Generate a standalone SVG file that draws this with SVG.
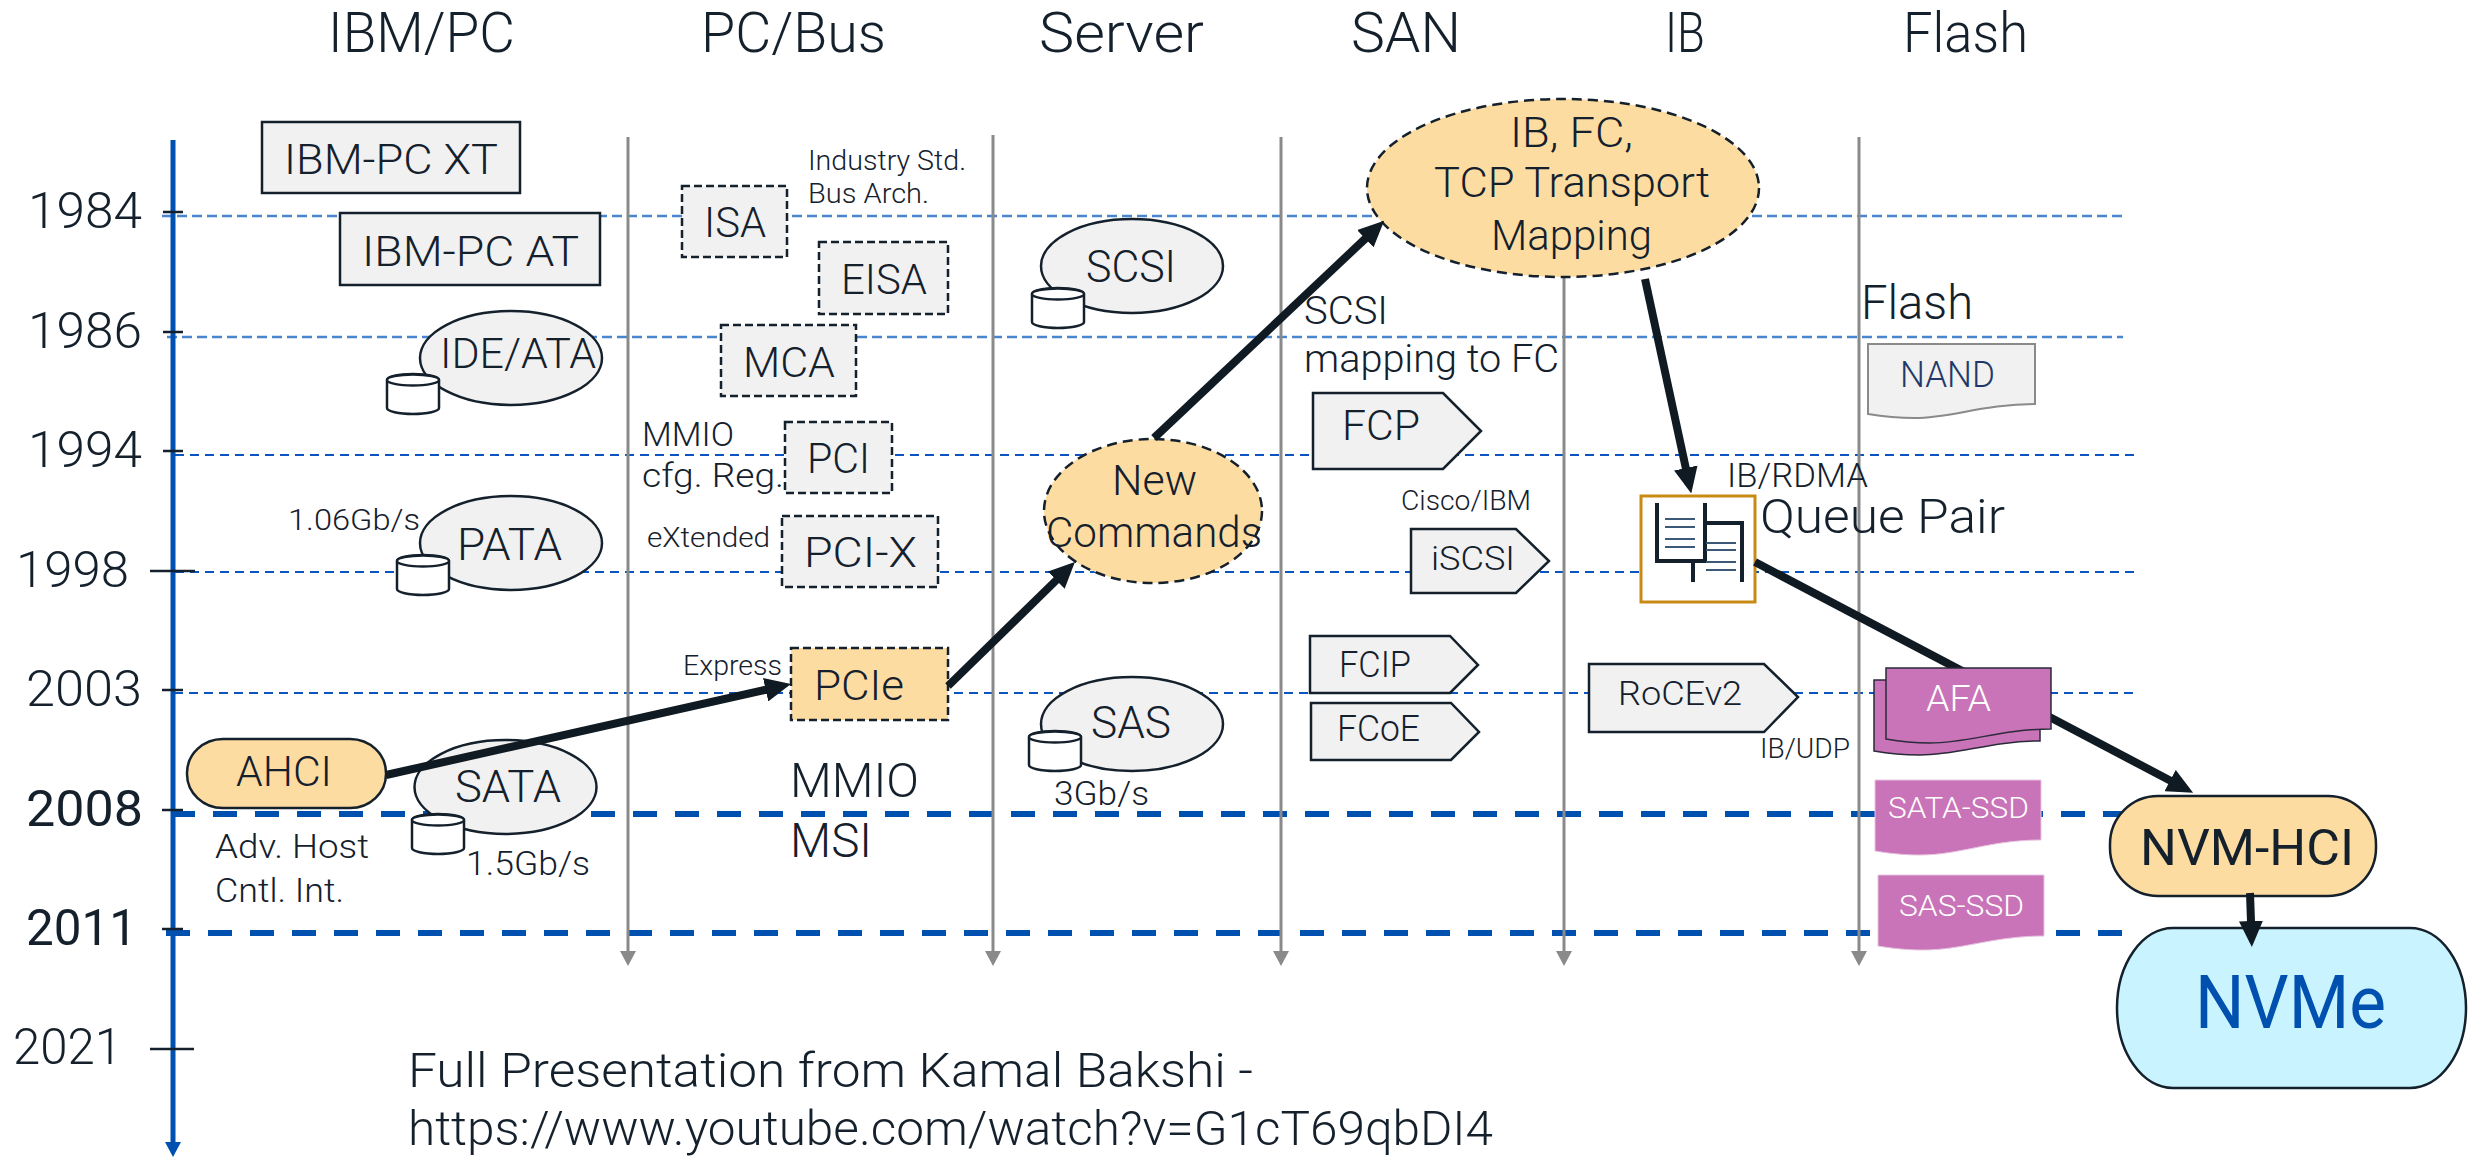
<svg xmlns="http://www.w3.org/2000/svg" width="2481" height="1157" viewBox="0 0 2481 1157">
<style>
text{font-family:"Roboto","Liberation Sans",sans-serif;font-weight:300;fill:#14202c}
.hd{font-size:56px}.yr{font-size:50px}.yb{font-size:50px;font-weight:400}
.s28{font-size:28px}.s30{font-size:30px}.s34{font-size:34px}.s36{font-size:36px}.s38{font-size:39px}.s42{font-size:43px}.s44{font-size:44px}.s48{font-size:48px}
.w{fill:#fff}
.box{fill:#f1f1f1;stroke:#14202c;stroke-width:2.5}
.dsh{fill:#f1f1f1;stroke:#14202c;stroke-width:2.5;stroke-dasharray:8 4}
.org{fill:#fddca2;stroke:#14202c;stroke-width:2.5;stroke-dasharray:10 6}
.pill{fill:#fddca2;stroke:#14202c;stroke-width:2.5}
.ell{fill:#f1f1f1;stroke:#14202c;stroke-width:2.5}
.thinA{stroke:#4a86d0;stroke-width:2.5;stroke-dasharray:10 5;fill:none}
.thinB{stroke:#0b55c0;stroke-width:1.8;stroke-dasharray:9 6;fill:none}
.thick{stroke:#0050b0;stroke-width:6;stroke-dasharray:24 18;fill:none}
.gray{stroke:#8a8a8a;stroke-width:3;fill:none;marker-end:url(#ga)}
.tick{stroke:#14202c;stroke-width:2.5;fill:none}
.con{stroke:#101a22;stroke-width:8;fill:none;marker-end:url(#ba)}
.doc{fill:#c973b8;stroke:#2a2a3a;stroke-width:1.5}
.ssd{fill:#c973b8;stroke:#e6c4df;stroke-width:1}
.ic{stroke:#14202c;stroke-width:4;fill:none}
.il{stroke:#3c5a78;stroke-width:2;fill:none}
</style>
<defs>
<marker id="ga" markerUnits="userSpaceOnUse" markerWidth="16" markerHeight="16" viewBox="0 0 16 16" refX="0" refY="8" orient="auto"><path d="M0,0L15,8L0,16z" fill="#8a8a8a"/></marker>
<marker id="ba" markerUnits="userSpaceOnUse" markerWidth="26" markerHeight="24" viewBox="0 0 26 24" refX="1" refY="12" orient="auto"><path d="M0,0L26,12L0,24z" fill="#101a22"/></marker>
<marker id="bl" markerUnits="userSpaceOnUse" markerWidth="16" markerHeight="16" viewBox="0 0 16 16" refX="0" refY="8" orient="auto"><path d="M0,0L15,8L0,16z" fill="#0050b0"/></marker>
<g id="cyl"><path d="M0,6A26,6 0 0 1 52,6V34A26,6 0 0 1 0,34Z" fill="#fff" stroke="#14202c" stroke-width="2.5"/><ellipse cx="26" cy="6" rx="26" ry="5.5" fill="#fff" stroke="#14202c" stroke-width="2.5"/></g>
</defs>
<g id="guides">
<path class="thinA" d="M162,216H2123"/>
<path class="thinA" d="M167,337H2123"/>
<path class="thinB" d="M175,455H2137"/>
<path class="thinB" d="M175,572H2137"/>
<path class="thinB" d="M174,693H2137"/>
<path class="thick" d="M171,814H2125"/>
<path class="thick" d="M166,933H2122"/>
<path class="gray" d="M628,137V951"/>
<path class="gray" d="M993,135V951"/>
<path class="gray" d="M1281,137V951"/>
<path class="gray" d="M1564,270V951"/>
<path class="gray" d="M1859,137V951"/>
<path d="M173,140V1142" stroke="#0050b0" stroke-width="5" fill="none" marker-end="url(#bl)"/>
<path class="tick" d="M163,212H183M163,332H183M163,451H183M150,571H195M162,690H183M162,810H183M162,929H183M150,1049H194"/>
</g>
<g id="years">
<text class="yr" x="28" y="228" textLength="114" lengthAdjust="spacingAndGlyphs">1984</text>
<text class="yr" x="28" y="348" textLength="114" lengthAdjust="spacingAndGlyphs">1986</text>
<text class="yr" x="28" y="467" textLength="114" lengthAdjust="spacingAndGlyphs">1994</text>
<text class="yr" x="16" y="587" textLength="113" lengthAdjust="spacingAndGlyphs">1998</text>
<text class="yr" x="26" y="706" textLength="116" lengthAdjust="spacingAndGlyphs">2003</text>
<text class="yb" x="26" y="826" textLength="117" lengthAdjust="spacingAndGlyphs">2008</text>
<text class="yb" x="26" y="945" textLength="111" lengthAdjust="spacingAndGlyphs">2011</text>
<text class="yr" x="13" y="1064" textLength="109" lengthAdjust="spacingAndGlyphs">2021</text>
</g>
<g id="headers">
<text class="hd" x="328" y="52" textLength="187" lengthAdjust="spacingAndGlyphs">IBM/PC</text>
<text class="hd" x="701" y="52" textLength="185" lengthAdjust="spacingAndGlyphs">PC/Bus</text>
<text class="hd" x="1039" y="52" textLength="165" lengthAdjust="spacingAndGlyphs">Server</text>
<text class="hd" x="1351" y="52" textLength="110" lengthAdjust="spacingAndGlyphs">SAN</text>
<text class="hd" x="1665" y="52" textLength="40" lengthAdjust="spacingAndGlyphs">IB</text>
<text class="hd" x="1903" y="52" textLength="125" lengthAdjust="spacingAndGlyphs">Flash</text>
</g>
<g id="n-ibmxt"><rect class="box" x="262" y="122" width="258" height="71"/><text class="s42" x="284" y="174" textLength="214" lengthAdjust="spacingAndGlyphs">IBM-PC XT</text></g>
<g id="n-ibmat"><rect class="box" x="340" y="213" width="260" height="72"/><text class="s42" x="362" y="266" textLength="217" lengthAdjust="spacingAndGlyphs">IBM-PC AT</text></g>
<g id="n-ide"><ellipse class="ell" cx="511" cy="358" rx="91" ry="47"/><use href="#cyl" x="387" y="374"/><text class="s42" x="440" y="368" textLength="156" lengthAdjust="spacingAndGlyphs">IDE/ATA</text></g>
<g id="n-pata"><ellipse class="ell" cx="511" cy="543" rx="91" ry="47"/><use href="#cyl" x="397" y="555"/><text class="s44" x="457" y="560" textLength="105" lengthAdjust="spacingAndGlyphs">PATA</text><text class="s30" x="288" y="530" textLength="132" lengthAdjust="spacingAndGlyphs">1.06Gb/s</text></g>
<g id="n-sata"><ellipse class="ell" cx="505.5" cy="787" rx="91" ry="47"/><use href="#cyl" x="412" y="814"/><text class="s44" x="455" y="802" textLength="106" lengthAdjust="spacingAndGlyphs">SATA</text><text class="s34" x="466" y="875" textLength="124" lengthAdjust="spacingAndGlyphs">1.5Gb/s</text></g>
<g id="n-ahci"><rect class="pill" x="187" y="739" width="199" height="69" rx="36" ry="34"/><text class="s42" x="236" y="786" textLength="96" lengthAdjust="spacingAndGlyphs">AHCI</text><text class="s34" x="215" y="858" textLength="154" lengthAdjust="spacingAndGlyphs">Adv. Host</text><text class="s34" x="215" y="902" textLength="129" lengthAdjust="spacingAndGlyphs">Cntl. Int.</text></g>
<g id="n-isa"><rect class="dsh" x="682" y="186" width="105" height="71"/><text class="s42" x="704" y="237" textLength="62" lengthAdjust="spacingAndGlyphs">ISA</text><text class="s28" x="808" y="170" textLength="158" lengthAdjust="spacingAndGlyphs">Industry Std.</text><text class="s28" x="808" y="203" textLength="121" lengthAdjust="spacingAndGlyphs">Bus Arch.</text></g>
<g id="n-eisa"><rect class="dsh" x="819" y="242" width="129" height="72"/><text class="s42" x="841" y="294" textLength="86" lengthAdjust="spacingAndGlyphs">EISA</text></g>
<g id="n-mca"><rect class="dsh" x="721" y="325" width="135" height="71"/><text class="s42" x="743" y="377" textLength="92" lengthAdjust="spacingAndGlyphs">MCA</text></g>
<g id="n-pci"><rect class="dsh" x="785" y="422" width="107" height="71"/><text class="s42" x="807" y="473" textLength="63" lengthAdjust="spacingAndGlyphs">PCI</text><text class="s34" x="642" y="446" textLength="92" lengthAdjust="spacingAndGlyphs">MMIO</text><text class="s34" x="642" y="487" textLength="142" lengthAdjust="spacingAndGlyphs">cfg. Reg.</text></g>
<g id="n-pcix"><rect class="dsh" x="782" y="516" width="156" height="71"/><text class="s42" x="804" y="567" textLength="113" lengthAdjust="spacingAndGlyphs">PCI-X</text><text class="s28" x="647" y="547" textLength="123" lengthAdjust="spacingAndGlyphs">eXtended</text></g>
<g id="n-pcie"><rect class="org" x="791" y="648" width="157" height="72" style="stroke-dasharray:8 4"/><text class="s42" x="814" y="700" textLength="90" lengthAdjust="spacingAndGlyphs">PCIe</text><text class="s28" x="683" y="675" textLength="99" lengthAdjust="spacingAndGlyphs">Express</text><text class="s48" x="790" y="797" textLength="129" lengthAdjust="spacingAndGlyphs">MMIO</text><text class="s48" x="790" y="857" textLength="82" lengthAdjust="spacingAndGlyphs">MSI</text></g>
<g id="n-scsi"><ellipse class="ell" cx="1132" cy="266" rx="91" ry="47"/><use href="#cyl" x="1032" y="288"/><text class="s44" x="1086" y="282" textLength="90" lengthAdjust="spacingAndGlyphs">SCSI</text></g>
<g id="n-sas"><ellipse class="ell" cx="1132" cy="724" rx="91" ry="47"/><use href="#cyl" x="1029" y="731"/><text class="s44" x="1091" y="738" textLength="80" lengthAdjust="spacingAndGlyphs">SAS</text><text class="s34" x="1054" y="805" textLength="95" lengthAdjust="spacingAndGlyphs">3Gb/s</text></g>
<g id="n-newcmd"><ellipse class="org" cx="1153" cy="511" rx="109" ry="72"/><text class="s42" x="1112" y="495" textLength="85" lengthAdjust="spacingAndGlyphs">New</text><text class="s42" x="1046" y="547" textLength="216" lengthAdjust="spacingAndGlyphs">Commands</text></g>
<g id="n-mapping"><ellipse class="org" cx="1563" cy="188" rx="196" ry="89"/><text class="s42" x="1510" y="147" textLength="123" lengthAdjust="spacingAndGlyphs">IB, FC,</text><text class="s42" x="1434" y="197" textLength="276" lengthAdjust="spacingAndGlyphs">TCP Transport</text><text class="s42" x="1491" y="250" textLength="161" lengthAdjust="spacingAndGlyphs">Mapping</text></g>
<g id="n-fcmap"><text class="s38" x="1304" y="324" textLength="84" lengthAdjust="spacingAndGlyphs">SCSI</text><text class="s38" x="1304" y="372" textLength="255" lengthAdjust="spacingAndGlyphs">mapping to FC</text></g>
<g id="n-fcp"><path class="box" d="M1313,393H1443L1481,431L1443,469H1313Z"/><text class="s42" x="1342" y="440" textLength="78" lengthAdjust="spacingAndGlyphs">FCP</text></g>
<g id="n-iscsi"><path class="box" d="M1411,529H1516L1549,561L1516,593H1411Z"/><text class="s34" x="1431" y="570" textLength="84" lengthAdjust="spacingAndGlyphs">iSCSI</text><text class="s28" x="1401" y="510" textLength="130" lengthAdjust="spacingAndGlyphs">Cisco/IBM</text></g>
<g id="n-fcip"><path class="box" d="M1310,636H1450L1478,665L1450,693H1310Z"/><text class="s36" x="1339" y="677" textLength="72" lengthAdjust="spacingAndGlyphs">FCIP</text></g>
<g id="n-fcoe"><path class="box" d="M1311,703H1451L1479,732L1451,760H1311Z"/><text class="s36" x="1337" y="741" textLength="83" lengthAdjust="spacingAndGlyphs">FCoE</text></g>
<g id="n-qp"><rect x="1641" y="496" width="114" height="106" fill="#fff" stroke="#c98a14" stroke-width="3"/><path class="ic" d="M1657,503V561H1705V503M1693,561V582M1705,523H1742V582"/><path class="il" d="M1665,519H1695M1665,527H1695M1665,539H1695M1665,547H1695M1706,543H1736M1706,550H1736M1706,562H1736M1706,570H1736"/><text class="s34" x="1727" y="487" textLength="141" lengthAdjust="spacingAndGlyphs">IB/RDMA</text><text class="s48" x="1760" y="533" textLength="245" lengthAdjust="spacingAndGlyphs">Queue Pair</text></g>
<g id="n-roce"><path class="box" d="M1589,664H1764L1798,697L1764,732H1589Z"/><text class="s34" x="1618" y="705" textLength="124" lengthAdjust="spacingAndGlyphs">RoCEv2</text><text class="s28" x="1760" y="758" textLength="90" lengthAdjust="spacingAndGlyphs">IB/UDP</text></g>
<g id="n-nand"><path d="M1868,344H2035V404C1985,404 1950,418 1915,418C1895,418 1880,416 1868,414Z" fill="#f1f1f1" stroke="#8a8a8a" stroke-width="2"/><text class="s36" x="1900" y="387" textLength="95" lengthAdjust="spacingAndGlyphs" style="fill:#1f3a68">NAND</text><text class="s48" x="1861" y="319" textLength="112" lengthAdjust="spacingAndGlyphs">Flash</text></g>
<g id="n-nvmhci"><rect x="2110" y="796" width="266" height="100" rx="48" ry="48" fill="#fddca2" stroke="#14202c" stroke-width="2.5"/><text x="2140" y="865" font-size="50" style="font-weight:400" textLength="214" lengthAdjust="spacingAndGlyphs">NVM-HCI</text></g>
<g id="n-nvme"><rect x="2117" y="928" width="349" height="160" rx="56" ry="80" fill="#c8f3ff" stroke="#14202c" stroke-width="2.5"/><text x="2195" y="1028" font-size="74" style="font-weight:400;fill:#0050b0" textLength="191" lengthAdjust="spacingAndGlyphs">NVMe</text></g>
<g id="connectors">
<path class="con" d="M386,775L766.6,689.5"/>
<path class="con" d="M948,686L1057,579.5"/>
<path class="con" d="M1154,438L1366,238"/>
<path class="con" d="M1645,279L1686,469"/>
<path class="con" d="M1755,562L2171,781"/>
<path class="con" d="M2250,893L2251,922"/>
</g>
<g id="n-afa"><path class="doc" d="M1874,680H2040V741C1990,741 1960,755 1920,755C1900,755 1885,753 1874,751Z"/><path class="doc" d="M1886,668H2051V729C2000,729 1970,743 1930,743C1912,743 1897,741 1886,739Z"/><text class="s36 w" x="1926" y="711" textLength="65" lengthAdjust="spacingAndGlyphs">AFA</text></g>
<g id="n-satassd"><path class="ssd" d="M1875,780H2041V840C1990,840 1960,855 1920,855C1902,855 1887,853 1875,851Z"/><text class="s30 w" x="1888" y="818" textLength="141" lengthAdjust="spacingAndGlyphs">SATA-SSD</text></g>
<g id="n-sasssd"><path class="ssd" d="M1878,875H2044V936C1993,936 1963,950 1923,950C1905,950 1890,948 1878,946Z"/><text class="s30 w" x="1899" y="916" textLength="125" lengthAdjust="spacingAndGlyphs">SAS-SSD</text></g>
<g id="footer">
<text class="s48" x="408" y="1087" textLength="845" lengthAdjust="spacingAndGlyphs">Full Presentation from Kamal Bakshi -</text>
<text class="s48" x="408" y="1145" textLength="1085" lengthAdjust="spacingAndGlyphs">https://www.youtube.com/watch?v=G1cT69qbDI4</text>
</g>
</svg>
